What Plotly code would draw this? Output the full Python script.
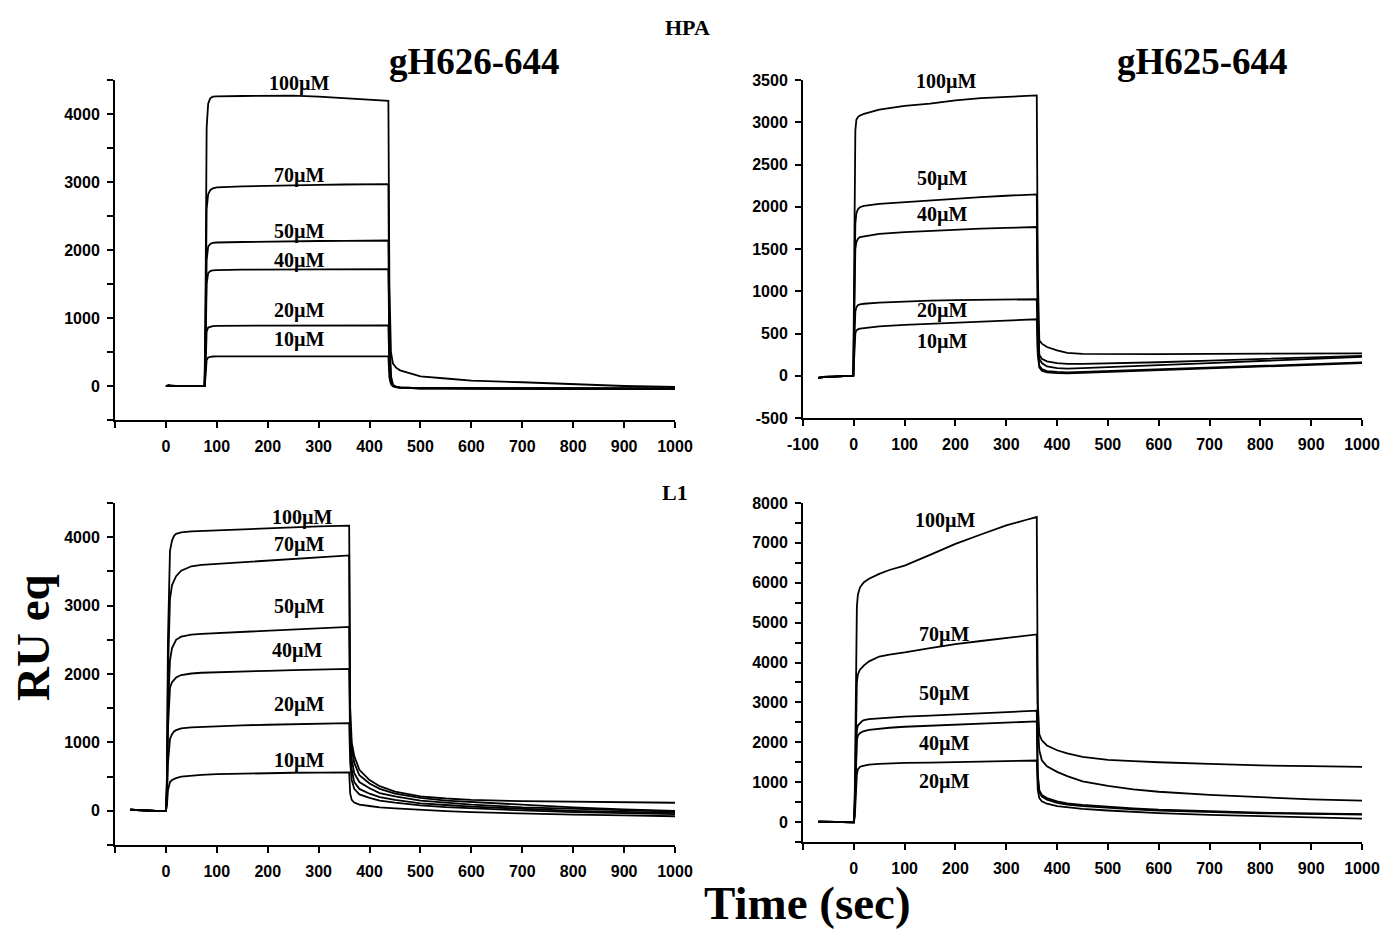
import plotly.graph_objects as go

# ---------------- data ----------------
CONC = ["100µM", "70µM", "50µM", "40µM", "20µM", "10µM"]

# Top-left: gH626-644 on HPA (injection ~77 s, end ~437 s)
TL_T = [0, 5, 10, 20, 50, 76, 78, 80, 83, 87, 92, 100, 150, 200, 250, 300, 350, 400, 437,
        439, 442, 446, 452, 460, 480, 500, 550, 600, 700, 800, 900, 1000]
TL_100 = [0, 15, 10, 0, 0, 0, 1500, 3800, 4150, 4230, 4255, 4260, 4265, 4262, 4270, 4255, 4235, 4210, 4195,
          1500, 500, 330, 270, 230, 180, 140, 110, 80, 55, 25, 0, -15]
TL_70 = [0, 0, 0, 0, 0, 0, 1000, 2600, 2820, 2880, 2905, 2920, 2935, 2945, 2952, 2958, 2963, 2968, 2970,
         800, 150, 20, -10, -25, -35, -38, -40, -42, -45, -45, -45, -45]
TL_50 = [0, 0, 0, 0, 0, 0, 700, 1850, 2050, 2090, 2105, 2110, 2118, 2125, 2128, 2132, 2135, 2138, 2140,
         600, 100, 10, -15, -25, -30, -33, -35, -38, -40, -42, -42, -43]
TL_40 = [0, 0, 0, 0, 0, 0, 600, 1500, 1660, 1690, 1700, 1705, 1710, 1712, 1715, 1717, 1718, 1720, 1720,
         500, 80, 5, -15, -25, -30, -33, -35, -36, -38, -40, -40, -40]
TL_20 = [0, 0, 0, 0, 0, 0, 300, 800, 860, 875, 882, 885, 887, 888, 889, 890, 891, 892, 893,
         250, 50, 0, -15, -22, -27, -30, -32, -33, -35, -36, -36, -37]
TL_10 = [0, 0, 0, 0, 0, 0, 150, 380, 420, 430, 434, 436, 436, 436, 436, 436, 436, 436, 436,
         120, 30, -5, -15, -20, -25, -28, -30, -30, -32, -33, -33, -34]

# Top-right: gH625-644 on HPA (injection 0 s, end 360 s)
TR_T = [-70, -60, -40, -20, -1, 1, 3, 5, 8, 12, 20, 50, 100, 150, 200, 250, 300, 340, 360,
        362, 365, 370, 380, 400, 420, 450, 500, 600, 700, 800, 900, 1000]
TR_100 = [-25, -15, -10, -5, 0, 1500, 2900, 3030, 3060, 3080, 3100, 3150, 3195, 3220, 3260, 3285, 3302, 3312, 3317,
          1200, 420, 380, 340, 300, 270, 258, 255, 255, 258, 260, 262, 265]
TR_50 = [-25, -15, -10, -5, 0, 900, 1800, 1920, 1970, 1995, 2010, 2035, 2056, 2078, 2100, 2115, 2130, 2140, 2147,
         800, 250, 200, 170, 150, 140, 140, 145, 160, 180, 200, 220, 235]
TR_40 = [-25, -15, -10, -5, 0, 800, 1500, 1580, 1620, 1640, 1650, 1680, 1700, 1715, 1728, 1740, 1750, 1756, 1760,
         700, 200, 150, 110, 90, 85, 90, 100, 125, 150, 175, 200, 225]
TR_20 = [-25, -15, -10, -5, 0, 400, 760, 810, 835, 845, 852, 865, 878, 888, 895, 899, 902, 904, 905,
         300, 120, 80, 55, 45, 40, 45, 55, 75, 95, 115, 135, 158]
TR_10 = [-25, -15, -10, -5, 0, 250, 500, 535, 550, 558, 565, 585, 601, 615, 629, 642, 655, 663, 668,
         250, 100, 60, 40, 30, 28, 35, 45, 65, 85, 105, 130, 150]

# Bottom-left: gH626-644 on L1
BL_T = [-70, -60, -40, -20, 0, 2, 4, 6, 8, 12, 16, 20, 30, 50, 70, 100, 150, 200, 250, 300, 340, 360,
        362, 365, 370, 380, 400, 420, 450, 500, 550, 600, 700, 800, 900, 1000]
BL_100 = [15, 10, 5, 0, -5, 500, 2500, 3500, 3800, 3950, 4020, 4050, 4070, 4085, 4092, 4100, 4115, 4130, 4145, 4158, 4165, 4168,
          1500, 1000, 800, 600, 450, 360, 280, 210, 180, 160, 140, 130, 122, 118]
BL_70 = [15, 10, 5, 0, -5, 400, 2000, 2800, 3100, 3300, 3380, 3430, 3510, 3575, 3595, 3610, 3630, 3655, 3680, 3708, 3725, 3734,
         1300, 900, 700, 520, 400, 320, 250, 190, 150, 130, 80, 50, 20, 0]
BL_50 = [15, 10, 5, 0, -5, 300, 1500, 2000, 2200, 2380, 2450, 2500, 2545, 2575, 2588, 2599, 2615, 2629, 2645, 2665, 2680, 2688,
         1100, 750, 550, 420, 330, 260, 210, 150, 120, 90, 50, 30, 10, -10]
BL_40 = [15, 10, 5, 0, -5, 250, 1200, 1650, 1800, 1880, 1920, 1948, 1985, 2007, 2018, 2027, 2038, 2047, 2056, 2066, 2072, 2076,
         900, 600, 420, 320, 250, 200, 160, 110, 85, 60, 30, 0, -15, -30]
BL_20 = [15, 10, 5, 0, -5, 150, 700, 950, 1050, 1120, 1160, 1179, 1205, 1220, 1228, 1240, 1250, 1258, 1265, 1273, 1279, 1282,
         700, 450, 320, 240, 190, 150, 120, 80, 55, 35, 5, -20, -35, -50]
BL_10 = [15, 10, 5, 0, -5, 80, 300, 380, 420, 450, 468, 478, 500, 518, 525, 535, 545, 552, 556, 559, 561, 562,
         250, 160, 120, 90, 70, 50, 35, 10, -5, -20, -40, -55, -68, -80]

# Bottom-right: gH625-644 on L1
BR_T = [-70, -60, -40, -20, 0, 2, 4, 6, 8, 12, 16, 20, 30, 50, 70, 100, 150, 200, 250, 300, 340, 360,
        362, 365, 370, 380, 400, 420, 450, 500, 550, 600, 700, 800, 900, 1000]
BR_100 = [10, 10, 5, 0, -5, 800, 4000, 5400, 5700, 5880, 5950, 6013, 6100, 6222, 6320, 6432, 6700, 6977, 7210, 7438, 7580, 7648,
          3000, 2200, 2050, 1920, 1800, 1720, 1635, 1560, 1530, 1500, 1460, 1420, 1400, 1384]
BR_70 = [10, 10, 5, 0, -5, 500, 2800, 3500, 3700, 3820, 3874, 3930, 4030, 4150, 4200, 4252, 4360, 4461, 4540, 4612, 4670, 4704,
         2500, 1800, 1550, 1400, 1258, 1150, 1023, 905, 820, 760, 680, 620, 570, 537]
BR_50 = [10, 10, 5, 0, -5, 300, 1800, 2300, 2420, 2480, 2530, 2558, 2580, 2600, 2620, 2642, 2670, 2700, 2730, 2760, 2780, 2792,
         1200, 800, 680, 600, 520, 470, 430, 380, 345, 310, 265, 235, 215, 200]
BR_40 = [10, 10, 5, 0, -5, 280, 1600, 2050, 2170, 2230, 2260, 2281, 2310, 2340, 2365, 2390, 2415, 2440, 2465, 2490, 2510, 2524,
         1100, 750, 640, 560, 480, 440, 400, 355, 320, 290, 250, 220, 205, 190]
BR_20 = [10, 10, 5, 0, -5, 150, 900, 1200, 1320, 1380, 1405, 1417, 1440, 1460, 1472, 1484, 1492, 1501, 1515, 1528, 1538, 1543,
         800, 600, 520, 460, 400, 370, 330, 290, 255, 225, 180, 145, 115, 88]

# concentration label positions (time, RU)
TL_LAB = [("100µM", 262, 4450), ("70µM", 262, 3100), ("50µM", 262, 2270),
          ("40µM", 262, 1850), ("20µM", 262, 1110), ("10µM", 262, 680)]
TR_LAB = [("100µM", 182, 3480), ("50µM", 175, 2340), ("40µM", 175, 1910),
          ("20µM", 175, 770), ("10µM", 175, 400)]
BL_LAB = [("100µM", 268, 4290), ("70µM", 262, 3890), ("50µM", 262, 2980),
          ("40µM", 258, 2340), ("20µM", 262, 1550), ("10µM", 262, 740)]
BR_LAB = [("100µM", 180, 7560), ("70µM", 178, 4710), ("50µM", 178, 3230),
          ("40µM", 178, 1960), ("20µM", 178, 1020)]

X_TICKS = list(range(-100, 1001, 100))
TL_YTICKS = [0, 1000, 2000, 3000, 4000]
TR_YTICKS = [-500, 0, 500, 1000, 1500, 2000, 2500, 3000, 3500]
BL_YTICKS = [0, 1000, 2000, 3000, 4000]
BR_YTICKS = [0, 1000, 2000, 3000, 4000, 5000, 6000, 7000, 8000]

# ---------------- figure ----------------
W, H = 1382, 931
fig = go.Figure()

def px_x(p):
    return p / W

def px_y(p):
    return 1 - p / H

panels = [
    # (axis suffix, T, series, labels, xdom px, ydom px, yrange, y ticks, minor, show -100)
    ("", TL_T, [TL_100, TL_70, TL_50, TL_40, TL_20, TL_10], TL_LAB, (115, 675), (80, 420), (-500, 4500), TL_YTICKS, True, False),
    ("2", TR_T, [TR_100, TR_50, TR_40, TR_20, TR_10], TR_LAB, (803, 1362), (80, 418), (-500, 3500), TR_YTICKS, False, True),
    ("3", BL_T, [BL_100, BL_70, BL_50, BL_40, BL_20, BL_10], BL_LAB, (115, 675), (503, 845), (-500, 4500), BL_YTICKS, True, False),
    ("4", BR_T, [BR_100, BR_70, BR_50, BR_40, BR_20], BR_LAB, (803, 1362), (503, 842), (-500, 8000), BR_YTICKS, True, False),
]

TICKFONT = dict(family="Liberation Sans, Arial", size=16, color="black", weight="bold")
SERIF = "Liberation Serif, Times New Roman"

layout_axes = {}
annotations = []
for suf, T, series, labels, xd, yd, yr, yticks, minor, show_m100 in panels:
    xa = "x" + suf
    ya = "y" + suf
    for s in series:
        fig.add_trace(go.Scatter(x=T, y=s, mode="lines", xaxis=xa, yaxis=ya,
                                 line=dict(color="black", width=1.8), showlegend=False,
                                 hoverinfo="skip"))
    ticktext = [("-100" if show_m100 else "") if v == -100 else str(v) for v in X_TICKS]
    layout_axes["xaxis" + suf] = dict(
        domain=[px_x(xd[0]), px_x(xd[1])], range=[-100, 1000], anchor=ya, automargin=False,
        tickmode="array", tickvals=X_TICKS, ticktext=ticktext, ticklabeloverflow="allow",
        showline=True, linecolor="black", linewidth=2, ticks="outside", ticklen=6,
        tickwidth=2, tickcolor="black", showgrid=False, zeroline=False,
        tickfont=TICKFONT, ticklabelstandoff=5)
    ydict = dict(
        domain=[px_y(yd[1]), px_y(yd[0])], range=list(yr), anchor=xa, automargin=False,
        tickmode="array", tickvals=yticks, ticktext=[str(v) for v in yticks],
        showline=True, linecolor="black", linewidth=2, ticks="outside", ticklen=6,
        tickwidth=2, tickcolor="black", showgrid=False, zeroline=False,
        tickfont=TICKFONT, ticklabelstandoff=4)
    if minor:
        ydict["minor"] = dict(ticks="outside", tickmode="linear", tick0=-500, dtick=500,
                              ticklen=6, tickwidth=1.5, tickcolor="black", showgrid=False)
    layout_axes["yaxis" + suf] = ydict
    for txt, tx, ty in labels:
        annotations.append(dict(x=tx, y=ty, xref=xa, yref=ya, text=txt, showarrow=False,
                                font=dict(family=SERIF, size=20, color="black", weight="bold")))

def paper_text(txt, x, y, size, angle=0):
    return dict(x=px_x(x), y=px_y(y), xref="paper", yref="paper", text=txt, showarrow=False,
                textangle=angle, xanchor="center", yanchor="middle",
                font=dict(family=SERIF, size=size, color="black", weight="bold"))

annotations += [
    paper_text("HPA", 687, 27, 22),
    paper_text("L1", 675, 492, 22),
    paper_text("gH626-644", 474, 62, 37),
    paper_text("gH625-644", 1202, 62, 37),
    paper_text("RU eq", 33, 638, 47, angle=-90),
    paper_text("Time (sec)", 807, 903, 47),
]

fig.update_layout(
    width=W, height=H, margin=dict(l=0, r=0, t=0, b=0, autoexpand=False),
    paper_bgcolor="white", plot_bgcolor="white", showlegend=False,
    annotations=annotations, **layout_axes)

# remove the default page margin so the figure fills the 1382x931 window exactly
fig.write_html("out.html", config={"displayModeBar": False},
               post_script="document.body.style.margin='0';document.body.style.overflow='hidden';")
